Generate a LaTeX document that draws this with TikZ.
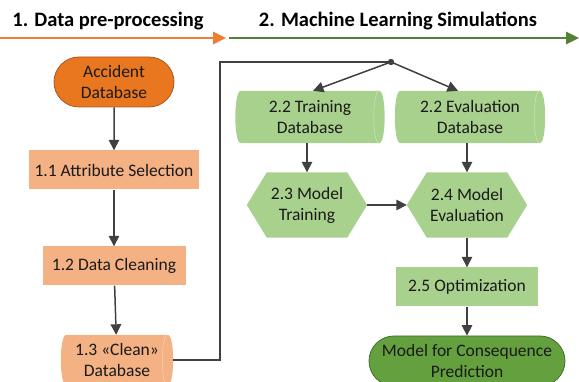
\documentclass[tikz,border=0pt]{standalone}
\usepackage{fontspec}
\setmainfont{Carlito}
\usetikzlibrary{shapes.misc,arrows.meta,backgrounds}
\definecolor{orgD}{HTML}{E8771F}
\definecolor{orgDb}{HTML}{A85A20}
\definecolor{orgL}{HTML}{F4B183}
\definecolor{grnL}{HTML}{A9D18E}
\definecolor{grnD}{HTML}{64A03E}
\definecolor{grnDb}{HTML}{41702A}
\definecolor{hdrO}{HTML}{ED7D31}
\definecolor{hdrG}{HTML}{548235}
\definecolor{conn}{HTML}{404040}
\definecolor{txt}{HTML}{1A1A1A}
\tikzset{
  base/.style={align=center, text=txt, inner sep=0pt, font=\fontsize{17.5}{21}\selectfont},
  stad/.style={base, rounded rectangle, minimum height=50pt},
  rbox/.style={base, rectangle, minimum height=39pt},
  cylbox/.style={base, rectangle, minimum height=52pt},
  hexbox/.style={base, rectangle, minimum width=80pt, minimum height=65pt},
  hdr/.style={font=\fontsize{20.5}{24}\selectfont\bfseries, text=black, anchor=base, inner sep=0pt},
  conarrow/.style={draw=conn, line width=1.5pt, -{Triangle[length=10.5pt,width=10.5pt]}},
  conline/.style={draw=conn, line width=1.5pt},
}
% horizontal storage cylinder behind node #1, fill colour #2
\newcommand\cylbg[2]{%
  \fill[#2] ([xshift=5.5pt]#1.north west) -- ([xshift=-5.5pt]#1.north east)
    .. controls ([xshift=1.8pt]#1.north east) and ([xshift=1.8pt]#1.south east) .. ([xshift=-5.5pt]#1.south east)
    -- ([xshift=5.5pt]#1.south west)
    .. controls ([xshift=-1.8pt]#1.south west) and ([xshift=-1.8pt]#1.north west) .. ([xshift=5.5pt]#1.north west) -- cycle;
  \draw[#2!60!white, line width=0.5pt] ([xshift=-5.5pt]#1.north east)
    .. controls ([xshift=-12.8pt]#1.north east) and ([xshift=-12.8pt]#1.south east) .. ([xshift=-5.5pt]#1.south east);
}
\begin{document}
\begin{tikzpicture}[x=1pt,y=-1pt]
\useasboundingbox (0,0) rectangle (579,382);
% headers
\node[hdr] (h1) at (108,27) {1. Data pre-processing};
\node[hdr] (h2) at (398,27) {2. Machine Learning Simulations};
\coordinate (o1) at (0,38);
\coordinate (o2) at (226,38);
\coordinate (g1) at (229,38);
\coordinate (g2) at (579,38);
\draw[hdrO, line width=2.6pt, -{Triangle[length=13pt,width=12pt]}] (o1) -- (o2);
\draw[hdrG, line width=2.6pt, -{Triangle[length=13pt,width=12pt]}] (g1) -- (g2);
% left column
\node[stad, fill=orgD, draw=orgDb, line width=0.8pt, minimum width=120pt] (acc) at (114,82) {Accident\\Database};
\node[rbox, fill=orgL, minimum width=170pt] (attr) at (114,170) {1.1 Attribute Selection};
\node[rbox, fill=orgL, minimum width=143pt] (clean) at (114,266) {1.2 Data Cleaning};
\node[cylbox, minimum width=112pt, minimum height=50pt] (cdb) at (117,360) {1.3 «Clean»\\Database};
% right column
\node[cylbox, minimum width=149pt] (tr) at (310,117) {2.2 Training\\Database};
\node[cylbox, minimum width=150pt] (ev) at (470,117) {2.2 Evaluation\\Database};
\node[hexbox] (mt) at (307,205) {2.3 Model\\Training};
\node[hexbox] (me) at (467,205) {2.4 Model\\Evaluation};
\coordinate (mtE) at ([xshift=20pt]mt.east);
\coordinate (meW) at ([xshift=-20pt]me.west);
\begin{scope}[on background layer]
\cylbg{cdb}{orgL}
\cylbg{tr}{grnL}
\cylbg{ev}{grnL}
\fill[grnL] (mt.north west) -- (mt.north east) -- (mtE) -- (mt.south east) -- (mt.south west) -- ([xshift=-20pt]mt.west) -- cycle;
\fill[grnL] (me.north west) -- (me.north east) -- ([xshift=20pt]me.east) -- (me.south east) -- (me.south west) -- (meW) -- cycle;
\end{scope}
\node[rbox, fill=grnL, minimum width=142pt] (opt) at (467,287) {2.5 Optimization};
\node[stad, fill=grnD, draw=grnDb, line width=0.8pt, minimum width=196pt] (fin) at (467,361) {Model for Consequence\\Prediction};
% connectors
\draw[conarrow] (acc) -- (attr);
\draw[conarrow] (attr) -- (clean);
\draw[conarrow] (clean) -- (cdb);
\coordinate (bend) at (220,62);
\coordinate (dot) at (391,62);
\draw[conline] (cdb.east) -| (bend) -- (dot);
\fill[conn] (dot) circle (3.2pt);
\draw[conarrow] (dot) -- ([xshift=3pt]tr.north);
\draw[conarrow] (dot) -- ([xshift=-12pt]ev.north);
\draw[conarrow] ([xshift=-3pt]tr.south) -- (mt.north);
\draw[conarrow] ([xshift=-3pt]ev.south) -- (me.north);
\draw[conarrow] (mtE) -- (meW);
\draw[conarrow] (me) -- (opt);
\draw[conarrow] (opt) -- (fin);
\end{tikzpicture}
\end{document}
